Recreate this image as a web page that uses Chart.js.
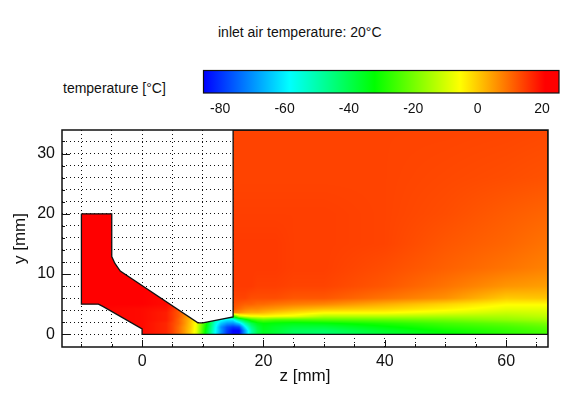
<!DOCTYPE html>
<html><head><meta charset="utf-8">
<script src="https://cdn.jsdelivr.net/npm/chart.js@4"></script>
<style>
html,body{margin:0;padding:0;background:#fff;width:583px;height:394px;overflow:hidden}
canvas{position:absolute;left:0}
.t{position:absolute;font-family:"Liberation Sans",Arial,sans-serif;font-size:14px;color:#111;white-space:nowrap}
</style></head><body>
<div class="t" style="left:218px;top:24px">inlet air temperature: 20°C</div>
<div class="t" style="left:63px;top:80px">temperature [°C]</div>
<canvas id="bar" width="583" height="66" style="top:60px"></canvas>
<canvas id="main" width="583" height="394" style="top:0"></canvas>
<script>
const zMin=-13.2, zMax=66.9, yMin=-2.1, yMax=33.9;
const tMin=-85.2, tMax=25.3;
const zGrid=[-10,-5,0,5,10,15,20,25,30,35,40,45,50,55,60,65];
const yGrid=[0,2,4,6,8,10,12,14,16,18,20,22,24,26,28,30,32];
const colorbarTicks=[-80,-60,-40,-20,0,20];
const colorTemps=[-85.2,-58.5,-32,-5.5,21,25.3];
const colorRGB=[[0,0,255],[0,255,255],[0,255,0],[255,255,0],[255,0,0],[255,0,0]];
// nozzle + jet domain outline
const outlineZ=[-10,-5,-5,-4.5,-3.6,9.2,10,15,15,zMax,zMax,0,0,-6.4,-7.2,-10,-10];
const outlineY=[20,20,12.9,11.8,10.5,1.9,1.9,2.9,yMax,yMax,0,0,0.9,4.6,5,5,20];
// temperature field nodes
const zNodes=[-10,0,4,5,6,7,8,9,10,11,12,13,14,15,16,17,18,19,20,22,25,30,40,50,60,67];
const yNodes=[0,0.6,1.2,1.8,2.4,3,3.6,4.2,5,6,8,11,15,20,26,34];
const tempY0 =[21,20,17,14,10,5,-1,-9,-26,-42,-58,-70,-80,-84,-84,-68,-50,-40,-36,-38,-42,-44,-38,-33,-28,-25];
const tempY1 =[21,20,17,14,10,5,-1,-8,-25,-41,-57,-69,-79,-85,-85,-68,-50,-40,-35,-37,-41,-42,-36,-31,-27,-24];
const tempY2 =[21,20,17,14,10,5,0,-8,-24,-39,-56,-70,-77,-80,-78,-60,-46,-38,-34,-36,-38,-38,-33,-28,-25,-22];
const tempY3 =[21,20,17,14,11,6,0,-7,-22,-37,-54,-64,-69,-70,-64,-50,-40,-34,-32,-33,-34,-33,-29,-25,-22,-19];
const tempY4 =[21,20,18,15,11,6,1,-6,-20,-34,-50,-57,-60,-60,-46,-36,-28,-24,-22,-24,-24,-23,-22,-20,-17,-15];
const tempY5 =[21,20,18,15,12,7,2,-4,-16,-30,-44,-50,-52,-30,-12,-8,-6,-6,-5,-6,-7,-13,-13,-14,-14,-12];
const tempY6 =[21,20,18,15,12,8,3,3,3,3,3,3,3,8,6,4,3,3,2,0,-2,-5,-5,-8,-11,-10];
const tempY7 =[21,20,19,16,13,9,9,9,9,9,9,9,9,12,10,8,7,7,6,5,3,1,-1,-4,-8,-8];
const tempY8 =[21,21,20,18,15,15,15,15,15,15,15,15,15,13,12,11,11,10,10,9,8,7,3,-1,-5,-5];
const tempY9 =[21,21,20,20,20,20,20,20,20,20,20,20,20,14,14,14,13,13,13,13,12,12,9,6,0,0.5];
const tempY10=[21,21,21,21,21,21,21,21,21,21,21,21,21,15,15,15,15,14.5,14.5,14.5,14,14,12,9,5.5,4.5];
const tempY11=[21,21,21,21,21,21,21,21,21,21,21,21,21,15,15,15,15,15,15,15,14.5,14.5,13,11,9,7.5];
const tempY12=[21,21,21,21,21,21,21,21,21,21,21,21,21,15,15,15,15,15,15,15,14.5,14.5,14,12,10.5,9];
const tempY13=[21,21,21,21,21,21,21,21,21,21,21,21,21,14.5,14.5,14.5,14.5,14.5,14.5,14.5,14.5,14.5,14,13,11.5,10.5];
const tempY14=[21,21,21,21,21,21,21,21,21,21,21,21,21,14,14,14,14,14,14,14,14,14,14,13.5,13,12.5];
const tempY15=[14,14,14,14,14,14,14,14,14,14,14,14,14,14,14,14,14,14,14,14,14,14,14,14,13.8,13.5];
const tempRows=[tempY0,tempY1,tempY2,tempY3,tempY4,tempY5,tempY6,tempY7,tempY8,tempY9,tempY10,tempY11,tempY12,tempY13,tempY14,tempY15];

function rgbFor(t){
  if(t<=colorTemps[0])return colorRGB[0];
  for(let i=1;i<colorTemps.length;i++){
    if(t<=colorTemps[i]){
      const f=(t-colorTemps[i-1])/(colorTemps[i]-colorTemps[i-1]),a=colorRGB[i-1],b=colorRGB[i];
      return [a[0]+(b[0]-a[0])*f,a[1]+(b[1]-a[1])*f,a[2]+(b[2]-a[2])*f];
    }
  }
  return colorRGB[colorRGB.length-1];
}
function locate(nodes,v){
  let i=0;while(i<nodes.length-2&&v>nodes[i+1])i++;
  const f=Math.max(0,Math.min(1,(v-nodes[i])/(nodes[i+1]-nodes[i])));
  return [i,f];
}
function fieldAt(z,y){
  const [i,fx]=locate(zNodes,z),[j,fy]=locate(yNodes,y);
  const a=tempRows[j][i]*(1-fx)+tempRows[j][i+1]*fx;
  const b=tempRows[j+1][i]*(1-fx)+tempRows[j+1][i+1]*fx;
  return a*(1-fy)+b*fy;
}
const heatPlugin={id:'heat',beforeDatasetsDraw(chart){
  const {ctx,chartArea:ca,scales:{x,y}}=chart;
  const x0=Math.floor(ca.left),y0=Math.floor(ca.top),w=Math.ceil(ca.right-x0),h=Math.ceil(ca.bottom-y0);
  const off=document.createElement('canvas');off.width=w;off.height=h;
  const oc=off.getContext('2d'),im=oc.createImageData(w,h);
  for(let r=0;r<h;r++){
    const yv=y.getValueForPixel(y0+r+0.5);
    for(let c=0;c<w;c++){
      const col=rgbFor(fieldAt(x.getValueForPixel(x0+c+0.5),yv));
      const k=(r*w+c)*4;
      im.data[k]=col[0];im.data[k+1]=col[1];im.data[k+2]=col[2];im.data[k+3]=255;
    }
  }
  oc.putImageData(im,0,0);
  ctx.save();ctx.beginPath();
  outlineZ.forEach((v,i)=>{const px=x.getPixelForValue(v),py=y.getPixelForValue(outlineY[i]);i?ctx.lineTo(px,py):ctx.moveTo(px,py);});
  ctx.closePath();ctx.clip();ctx.drawImage(off,x0,y0);ctx.restore();
},afterDatasetsDraw(chart){
  const {ctx,chartArea:ca,scales:{x,y}}=chart;
  ctx.save();ctx.strokeStyle='#111';ctx.lineWidth=1;ctx.beginPath();
  zGrid.forEach(v=>{const p=Math.round(x.getPixelForValue(v))+0.5,l=v%20===0?7:3;ctx.moveTo(p,ca.bottom);ctx.lineTo(p,ca.bottom-l);});
  yGrid.forEach(v=>{const p=Math.round(y.getPixelForValue(v))+0.5,l=v%10===0?8:3;ctx.moveTo(ca.left,p);ctx.lineTo(ca.left+l,p);});
  ctx.stroke();
  ctx.lineWidth=1.5;ctx.strokeRect(ca.left,ca.top,ca.right-ca.left,ca.bottom-ca.top);
  ctx.restore();
}};
const FONT='"Liberation Sans",Arial,sans-serif';
const gridOpts={color:'#111',lineWidth:1,drawTicks:false,tickBorderDash:[],z:0};
new Chart(document.getElementById('main'),{
  type:'scatter',
  data:{datasets:[{
    label:'outline',showLine:true,fill:false,borderColor:'#111',borderWidth:1.3,pointRadius:0,tension:0,
    data:outlineZ.map((v,i)=>({x:v,y:outlineY[i]}))
  }]},
  plugins:[heatPlugin],
  options:{
    responsive:false,animation:false,devicePixelRatio:1,
    layout:{padding:{top:130,right:35,left:0,bottom:0}},
    plugins:{legend:{display:false},tooltip:{enabled:false}},
    scales:{
      x:{type:'linear',min:zMin,max:zMax,
        afterBuildTicks(a){a.ticks=zGrid.map(value=>({value}));},
        afterFit(a){a.height=394-347;},
        ticks:{autoSkip:false,maxRotation:0,padding:5,color:'#111',font:{family:FONT,size:16},callback:v=>v%20===0?String(v):''},
        grid:{...gridOpts},border:{display:false,dash:[1,3]},
        title:{display:true,text:'z [mm]',color:'#111',font:{family:FONT,size:17},padding:{top:0,bottom:7}}},
      y:{type:'linear',min:yMin,max:yMax,
        afterBuildTicks(a){a.ticks=yGrid.map(value=>({value}));},
        afterFit(a){a.width=62;},
        ticks:{autoSkip:false,padding:7,color:'#111',font:{family:FONT,size:16},callback:v=>v%10===0?String(v):''},
        grid:{...gridOpts},border:{display:false,dash:[1,3]},
        title:{display:true,text:'y [mm]',color:'#111',font:{family:FONT,size:17},padding:{top:10,bottom:0}}}
    }
  }
});
const barPlugin={id:'colorbar',beforeDatasetsDraw(chart){
  const {ctx,chartArea:ca,scales:{x}}=chart;
  const g=ctx.createLinearGradient(x.getPixelForValue(tMin),0,x.getPixelForValue(tMax),0);
  colorTemps.forEach((t,i)=>g.addColorStop((t-tMin)/(tMax-tMin),`rgb(${colorRGB[i].join(',')})`));
  ctx.save();ctx.fillStyle=g;ctx.fillRect(ca.left,ca.top,ca.right-ca.left,ca.bottom-ca.top);
  ctx.strokeStyle='#111';ctx.lineWidth=1.2;ctx.strokeRect(ca.left,ca.top,ca.right-ca.left,ca.bottom-ca.top);ctx.restore();
}};
new Chart(document.getElementById('bar'),{
  type:'scatter',
  data:{datasets:[{label:'colorbar',data:colorTemps.map(t=>({x:t,y:0})),pointRadius:0}]},
  plugins:[barPlugin],
  options:{
    responsive:false,animation:false,devicePixelRatio:1,
    layout:{padding:{left:203.5,right:24,top:10.5,bottom:0}},
    plugins:{legend:{display:false},tooltip:{enabled:false}},
    scales:{
      x:{type:'linear',min:tMin,max:tMax,
        afterBuildTicks(a){a.ticks=colorbarTicks.map(value=>({value}));},
        afterFit(a){a.height=66-33;},
        ticks:{autoSkip:false,maxRotation:0,padding:8,color:'#111',font:{family:FONT,size:14}},
        grid:{display:false,drawTicks:false},border:{display:false}},
      y:{display:false,min:-1,max:1}
    }
  }
});
</script>
</body></html>
